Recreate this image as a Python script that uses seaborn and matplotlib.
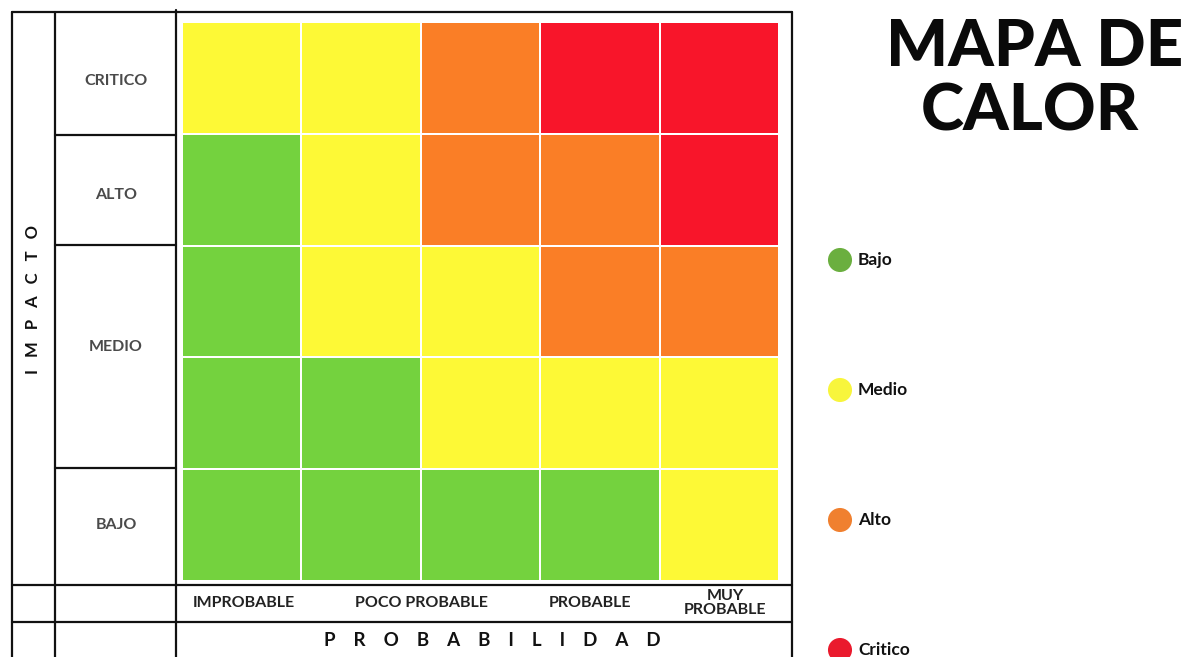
import numpy as np
import pandas as pd
import seaborn as sns
import matplotlib
matplotlib.use("Agg")
import matplotlib.pyplot as plt
from matplotlib.colors import ListedColormap
from matplotlib.lines import Line2D

# ---- data ----
impact_labels = ["CRITICO", "ALTO", "MEDIO", "BAJO"]
prob_labels = ["IMPROBABLE", "POCO PROBABLE", "PROBABLE", "MUY\nPROBABLE"]
level_names = ["Bajo", "Medio", "Alto", "Critico"]
level_colors = ["#74D23E", "#FDF936", "#FA7E26", "#F8152A"]
legend_colors = ["#6BAF3F", "#F8F53C", "#F0802F", "#EA1A2D"]
row_ids = ["r1", "r2", "r3", "r4", "r5"]
col_ids = ["c1", "c2", "c3", "c4", "c5"]
risk_levels = [
    [1, 1, 2, 3, 3],
    [0, 1, 2, 2, 3],
    [0, 1, 1, 2, 2],
    [0, 0, 1, 1, 1],
    [0, 0, 0, 0, 1],
]

W, H = 1195, 657
sns.set_theme(style="white")
plt.rcParams["font.family"] = ["Lato", "DejaVu Sans"]

fig = plt.figure(figsize=(W / 100, H / 100), dpi=100)
fig.patch.set_facecolor("white")


def fx(x):
    return x / W


def fy(y):
    return 1 - y / H


# heatmap axes
x0, x1, y0, y1 = 182, 779, 22, 581
ax = fig.add_axes([fx(x0), fy(y1), fx(x1) - fx(x0), fy(y0) - fy(y1)])
df = pd.DataFrame(risk_levels, index=row_ids, columns=col_ids)
sns.heatmap(df, ax=ax, cmap=ListedColormap(level_colors), vmin=-0.5, vmax=3.5,
            cbar=False, linewidths=1.1, linecolor="white", square=False)
ax.set_xticks([])
ax.set_yticks([])
ax.set_xlabel("")
ax.set_ylabel("")
for s in ax.spines.values():
    s.set_visible(False)

# table lines
lw = 1.6
segs = [
    ((12, 12), (12, 657)),
    ((55, 12), (55, 657)),
    ((176, 10), (176, 657)),
    ((792, 12), (792, 657)),
    ((12, 12), (792, 12)),
    ((55, 135), (176, 135)),
    ((55, 245), (176, 245)),
    ((55, 468), (176, 468)),
    ((12, 585), (792, 585)),
    ((12, 622), (792, 622)),
]
for (xa, ya), (xb, yb) in segs:
    fig.add_artist(Line2D([fx(xa), fx(xb)], [fy(ya), fy(yb)], color="#111111",
                          lw=lw, transform=fig.transFigure))

# row labels
row_label_y = [81, 195, 347, 525]
for lab, yy in zip(impact_labels, row_label_y):
    fig.text(fx(116), fy(yy), lab, ha="center", va="center", fontsize=11.5,
             color="#4a4a4a", fontweight="bold")

# column labels
col_label_x = [244, 421, 590, 725]
for lab, xx in zip(prob_labels, col_label_x):
    fig.text(fx(xx), fy(603), lab, ha="center", va="center", fontsize=11.5,
             color="#222222", fontweight="bold", linespacing=0.95)

# axis titles
fig.text(fx(33), fy(300), "I   M   P   A   C   T   O", rotation=90, ha="center",
         va="center", fontsize=12, color="#111111", fontweight="bold")
fig.text(fx(492), fy(640), "P    R    O    B    A    B    I    L    I    D    A    D",
         ha="center", va="center", fontsize=13.5, color="#111111",
         fontweight="bold")

# title
fig.text(fx(1035), fy(48), "MAPA DE", ha="center", va="center", fontsize=47,
         fontweight="black", color="#0a0a0a")
fig.text(fx(1030), fy(112), "CALOR", ha="center", va="center", fontsize=47,
         fontweight="black", color="#0a0a0a")

# legend
lax = fig.add_axes([fx(800), 0, fx(1000) - fx(800), 1])
lax.set_xlim(800, 1000)
lax.set_ylim(H, 0)
lax.axis("off")
leg_y = [260, 390, 520, 650]
lax.scatter([840] * 4, leg_y, s=300, c=legend_colors, edgecolors="none",
            clip_on=False)
for name, yy in zip(level_names, leg_y):
    lax.text(858, yy, name, ha="left", va="center", fontsize=12.5,
             fontweight="bold", color="#111111")

fig.savefig("out.png", dpi=100, facecolor="white")
